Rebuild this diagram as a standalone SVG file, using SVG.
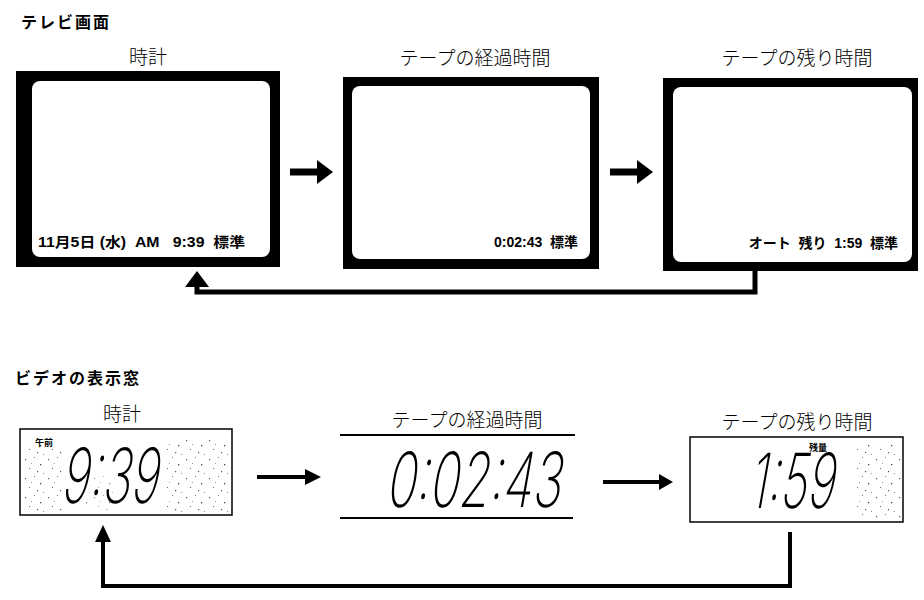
<svg xmlns="http://www.w3.org/2000/svg" width="924" height="600" viewBox="0 0 924 600">
<style>
.ttl{font-family:"Noto Sans CJK JP",sans-serif;font-weight:700;font-size:16px;letter-spacing:2px;fill:#000}
.lbl{font-family:"Noto Sans CJK JP",sans-serif;font-weight:300;font-size:19px;fill:#000}
.osd{font-family:"Liberation Sans","Noto Sans CJK JP",sans-serif;font-weight:700;font-size:14px;fill:#000}
.seg{font-family:Inter,"DejaVu Sans",sans-serif;font-weight:200;font-size:76px;fill:#000}
.tiny{font-family:"Noto Sans CJK JP",sans-serif;font-weight:700;font-size:9px;fill:#000}
.frame{fill:#000}
.screen{fill:#fff}
.lcd{fill:#fff;stroke:#000;stroke-width:1.5}
.conn{fill:none;stroke:#000;stroke-linejoin:miter}
</style>
<defs>
<pattern id="speck" width="23" height="19" patternUnits="userSpaceOnUse">
<rect x="2" y="3" width="1.2" height="1.2" fill="#555"/>
<rect x="11" y="1" width="1" height="1" fill="#777"/>
<rect x="17" y="8" width="1.3" height="1.3" fill="#444"/>
<rect x="6" y="12" width="1" height="1" fill="#666"/>
<rect x="14" y="15" width="1.2" height="1.2" fill="#555"/>
<rect x="20" y="17" width="1" height="1" fill="#888"/>
<rect x="8" y="7" width="1" height="1" fill="#999"/>
</pattern>
</defs>
<rect width="924" height="600" fill="#fff"/>

<text class="ttl" x="21" y="28">テレビ画面</text>
<text class="ttl" x="15" y="384">ビデオの表示窓</text>

<g id="tv-clock">
<text class="lbl" x="148" y="64" text-anchor="middle">時計</text>
<rect class="frame" x="16" y="71" width="264" height="196"/>
<rect class="screen" x="32" y="81" width="238" height="176" rx="8"/>
<text class="osd" x="38" y="247" textLength="207" lengthAdjust="spacingAndGlyphs" xml:space="preserve">11月5日 (水)  AM   9:39  標準</text>
</g>

<g id="tv-elapsed">
<text class="lbl" x="475" y="65" text-anchor="middle">テープの経過時間</text>
<rect class="frame" x="343" y="77" width="256" height="192"/>
<rect class="screen" x="352" y="86" width="238" height="173" rx="8"/>
<text class="osd" x="578" y="247" text-anchor="end" xml:space="preserve">0:02:43  標準</text>
</g>

<g id="tv-remaining">
<text class="lbl" x="797" y="65" text-anchor="middle">テープの残り時間</text>
<rect class="frame" x="663" y="78" width="255" height="193"/>
<rect class="screen" x="673" y="87" width="239" height="175" rx="8"/>
<text class="osd" x="898" y="248" text-anchor="end" xml:space="preserve">オート  残り  1:59  標準</text>
</g>

<g id="vcr-clock">
<text class="lbl" x="122" y="421" text-anchor="middle">時計</text>
<rect class="lcd" x="20" y="429" width="212" height="86"/>
<rect x="22" y="445" width="40" height="68" fill="url(#speck)"/>
<rect x="165" y="440" width="65" height="73" fill="url(#speck)"/>
<rect x="85" y="475" width="30" height="35" fill="url(#speck)" opacity="0.6"/>
<text class="tiny" x="35" y="446">午前</text>
<text class="seg" transform="translate(60,503) skewX(-10)" textLength="97" lengthAdjust="spacingAndGlyphs">9:39</text>
</g>

<g id="vcr-elapsed">
<text class="lbl" x="467" y="427" text-anchor="middle">テープの経過時間</text>
<line x1="340" y1="435" x2="575" y2="435" stroke="#000" stroke-width="2"/>
<line x1="340" y1="518" x2="573" y2="518" stroke="#000" stroke-width="2"/>
<text class="seg" transform="translate(385,507) skewX(-10)" textLength="175" lengthAdjust="spacingAndGlyphs">0:02:43</text>
</g>

<g id="vcr-remaining">
<text class="lbl" x="797" y="429" text-anchor="middle">テープの残り時間</text>
<rect class="lcd" x="690" y="437" width="213" height="85"/>
<rect x="855" y="445" width="46" height="75" fill="url(#speck)"/>
<text class="tiny" x="809" y="451">残量</text>
<text class="seg" transform="translate(748,508) skewX(-10)" textLength="85" lengthAdjust="spacingAndGlyphs">1:59</text>
</g>

<g id="connectors">
<line class="conn" x1="290" y1="172" x2="318" y2="172" stroke-width="7"/>
<polygon points="317,160 333,172 317,184" fill="#000"/>
<line class="conn" x1="610" y1="172" x2="638" y2="172" stroke-width="7"/>
<polygon points="637,160 653,172 637,184" fill="#000"/>
<polyline class="conn" points="755,270 755,292 197,292 197,284" stroke-width="5"/>
<polygon points="185,287 197,271 209,287" fill="#000"/>
<line class="conn" x1="257" y1="477" x2="306" y2="477" stroke-width="4"/>
<polygon points="305,469 321,477 305,485" fill="#000"/>
<line class="conn" x1="603" y1="482" x2="660" y2="482" stroke-width="4"/>
<polygon points="659,474 673,482 659,490" fill="#000"/>
<polyline class="conn" points="790,532 790,586 103,586 103,540" stroke-width="4"/>
<polygon points="95,542 103,525 111,542" fill="#000"/>
</g>
</svg>
